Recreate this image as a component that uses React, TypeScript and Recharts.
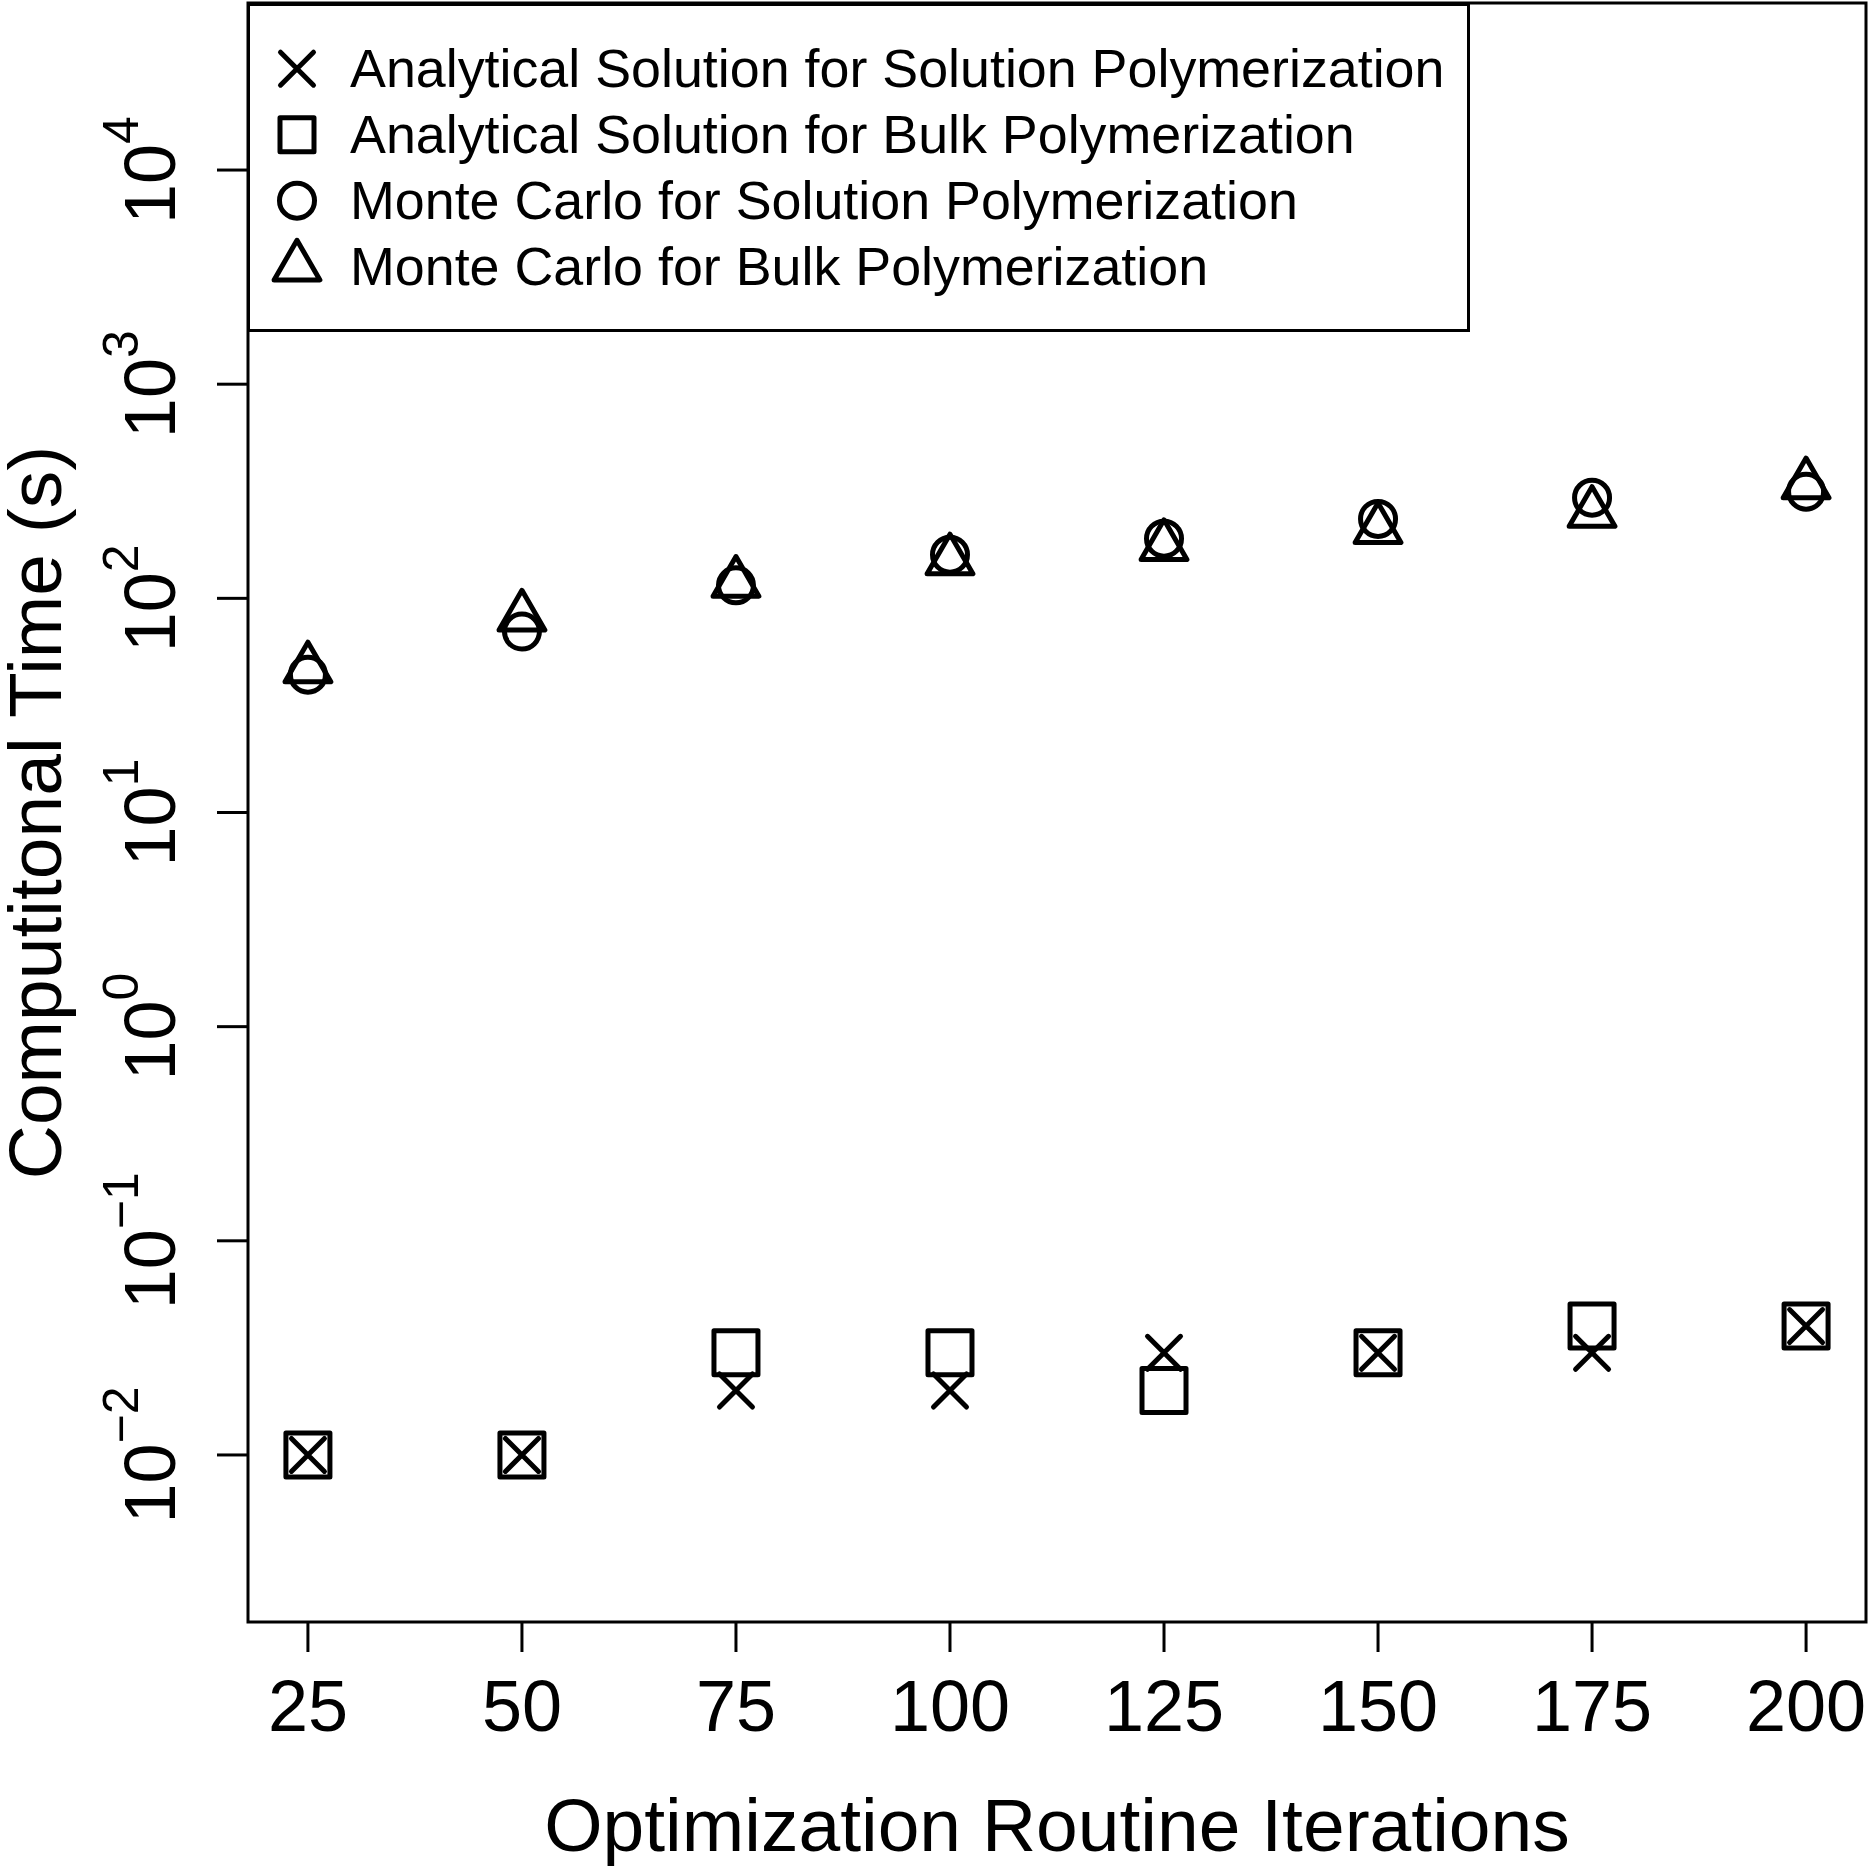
import { Legend, ReferenceArea, Scatter, ScatterChart, XAxis, YAxis } from "recharts";

const iterations = [25, 50, 75, 100, 125, 150, 175, 200];
const analyticalSolution = [0.01, 0.01, 0.02, 0.02, 0.03, 0.03, 0.03, 0.04];
const analyticalBulk = [0.01, 0.01, 0.03, 0.03, 0.02, 0.03, 0.04, 0.04];
const monteCarloSolution = [44, 70, 115, 160, 190, 235, 295, 315];
const monteCarloBulk = [47, 82, 118, 150, 175, 210, 250, 340];

const xTicks = [25, 50, 75, 100, 125, 150, 175, 200];
const yTicks = [0.01, 0.1, 1, 10, 100, 1000, 10000];

const X_DOMAIN: [number, number] = [18, 207];
const Y_DOMAIN: [number, number] = [10 ** -2.78, 10 ** 4.78];

const FONT = '"Liberation Sans", Arial, Helvetica, sans-serif';
const STROKE = 5;

type MarkerKind = "cross" | "square" | "circle" | "triangle";

const series: { key: string; label: string; marker: MarkerKind; values: number[] }[] = [
  { key: "as", label: "Analytical Solution for Solution Polymerization", marker: "cross", values: analyticalSolution },
  { key: "ab", label: "Analytical Solution for Bulk Polymerization", marker: "square", values: analyticalBulk },
  { key: "ms", label: "Monte Carlo for Solution Polymerization", marker: "circle", values: monteCarloSolution },
  { key: "mb", label: "Monte Carlo for Bulk Polymerization", marker: "triangle", values: monteCarloBulk },
];

// squares in the plot are drawn a bit larger than the legend key
function Marker({ kind, cx, cy, inLegend }: { kind: MarkerKind; cx: number; cy: number; inLegend?: boolean }) {
  const common = {
    fill: "none",
    stroke: "#000",
    strokeWidth: STROKE,
    strokeLinecap: "round" as const,
    strokeLinejoin: "round" as const,
  };
  if (kind === "cross") {
    const h = 16.5;
    return (
      <path
        d={`M${cx - h},${cy - h}L${cx + h},${cy + h}M${cx - h},${cy + h}L${cx + h},${cy - h}`}
        {...common}
      />
    );
  }
  if (kind === "square") {
    const h = inLegend ? 17 : 22;
    return <rect x={cx - h} y={cy - h} width={2 * h} height={2 * h} {...common} />;
  }
  if (kind === "circle") {
    return <circle cx={cx} cy={cy} r={17.5} {...common} />;
  }
  const s = 17;
  const top = cy - 1.5551 * s;
  const base = cy + 0.7776 * s;
  const hw = 1.3468 * s;
  return (
    <path d={`M${cx},${top}L${cx + hw},${base}L${cx - hw},${base}Z`} {...common} />
  );
}

function YTick(props: any) {
  const { x, y, payload } = props;
  const exp = Math.round(Math.log10(payload.value));
  const expText = exp < 0 ? `\u2212${-exp}` : `${exp}`;
  return (
    <text
      transform={`translate(${x - 40}, ${y}) rotate(-90)`}
      textAnchor="middle"
      fontSize={72}
      fontFamily={FONT}
      fill="#000"
    >
      10
      <tspan dy={-37} fontSize={50}>
        {expText}
      </tspan>
    </text>
  );
}

function XTick(props: any) {
  const { x, y, payload } = props;
  return (
    <text x={x} y={y + 77} textAnchor="middle" fontSize={72} fontFamily={FONT} fill="#000">
      {payload.value}
    </text>
  );
}

function LegendBox() {
  return (
    <svg width={1223} height={329} style={{ display: "block" }}>
      <rect x={1.5} y={1.5} width={1220} height={326} fill="#fff" stroke="#000" strokeWidth={3} />
      {series.map((s, i) => {
        const cy = 65.7 + i * 66;
        return (
          <g key={s.key}>
            <Marker kind={s.marker} cx={50} cy={cy} inLegend />
            <text x={103} y={cy + 18.6} fontSize={53.8} fontFamily={FONT} fill="#000">
              {s.label}
            </text>
          </g>
        );
      })}
    </svg>
  );
}

export default function App() {
  return (
    <div
      style={{
        position: "absolute",
        left: 0,
        top: 0,
        width: 1870,
        height: 1867,
        background: "#fff",
        fontFamily: FONT,
      }}
    >
      <ScatterChart width={1870} height={1867} margin={{ top: 3, right: 4, bottom: 0, left: 0 }}>
        <XAxis
          type="number"
          dataKey="x"
          domain={X_DOMAIN}
          allowDataOverflow
          ticks={xTicks}
          height={245}
          axisLine={false}
          tickSize={30}
          tickLine={{ stroke: "#000", strokeWidth: 3 }}
          tick={<XTick />}
          interval={0}
          label={{
            content: (p: any) => {
              const vb = p.viewBox;
              return (
                <text
                  x={vb.x + vb.width / 2}
                  y={vb.y + 229}
                  textAnchor="middle"
                  fontSize={75}
                  fontFamily={FONT}
                  fill="#000"
                >
                  Optimization Routine Iterations
                </text>
              );
            },
          }}
        />
        <YAxis
          type="number"
          dataKey="y"
          scale="log"
          domain={Y_DOMAIN}
          allowDataOverflow
          ticks={yTicks}
          width={248}
          axisLine={false}
          tickSize={31}
          tickLine={{ stroke: "#000", strokeWidth: 3 }}
          tick={<YTick />}
          interval={0}
          label={{
            content: (p: any) => {
              const vb = p.viewBox;
              const cy = vb.y + vb.height / 2;
              return (
                <text
                  transform={`translate(61, ${cy}) rotate(-90)`}
                  textAnchor="middle"
                  fontSize={75}
                  fontFamily={FONT}
                  fill="#000"
                >
                  Computitonal Time (s)
                </text>
              );
            },
          }}
        />
        <ReferenceArea
          x1={X_DOMAIN[0]}
          x2={X_DOMAIN[1]}
          y1={Y_DOMAIN[0]}
          y2={Y_DOMAIN[1]}
          fill="none"
          fillOpacity={0}
          stroke="#000"
          strokeWidth={3}
          ifOverflow="visible"
        />
        {series.map((s) => (
          <Scatter
            key={s.key}
            name={s.label}
            data={iterations.map((x, i) => ({ x, y: s.values[i] }))}
            isAnimationActive={false}
            shape={(p: any) => <Marker kind={s.marker} cx={p.cx} cy={p.cy} />}
          />
        ))}
        <Legend
          layout="vertical"
          align="center"
          verticalAlign="middle"
          wrapperStyle={{ left: 247, top: 3, width: 1223, height: 329 }}
          content={() => <LegendBox />}
        />
      </ScatterChart>
    </div>
  );
}
